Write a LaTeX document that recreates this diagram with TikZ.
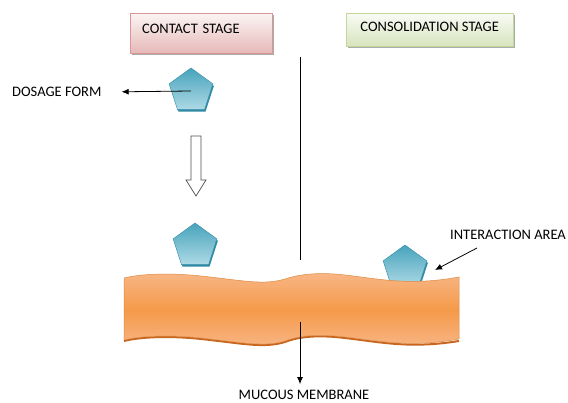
\documentclass[tikz,border=0pt]{standalone}
\usepackage{fontspec}
\setmainfont{Carlito}
\usepackage{tikz}
\usetikzlibrary{calc}
\usetikzlibrary{arrows.meta}
\usetikzlibrary{shapes.geometric}
\usetikzlibrary{shadows}
\usetikzlibrary{positioning}
\definecolor{tealb}{HTML}{4BACC6}
\definecolor{tealdark}{HTML}{2F8AA5}
\definecolor{pinkb}{HTML}{E6B9B8}
\definecolor{pinkedge}{HTML}{D99694}
\definecolor{greenb}{HTML}{D7E4BD}
\definecolor{greenedge}{HTML}{C3D69B}
\definecolor{orangeb}{HTML}{F59A4A}
\definecolor{orangel}{HTML}{F8B686}
\definecolor{orangedark}{HTML}{C8651E}
\tikzset{drug/.style={regular polygon,regular polygon sides=5,minimum size=46pt,inner sep=0pt,draw=tealdark,line width=0.4pt,top color=tealb!95!black,bottom color=tealb!45!white}}
\tikzset{drugshadow/.style={regular polygon,regular polygon sides=5,minimum size=46pt,inner sep=0pt,fill=tealdark}}
\tikzset{contactbox/.style={draw=pinkedge,top color=pinkb!15!white,bottom color=pinkb,minimum width=142pt,minimum height=40pt,inner xsep=12pt,text width=118pt,align=left,text height=10pt,text depth=10pt,drop shadow={shadow xshift=2pt,shadow yshift=-2pt,fill=black!55,opacity=0.6}}}
\tikzset{consolbox/.style={draw=greenedge,top color=greenb!15!white,bottom color=greenb,minimum width=167pt,minimum height=33pt,align=center,text height=10pt,text depth=6pt,drop shadow={shadow xshift=2pt,shadow yshift=-2pt,fill=black!55,opacity=0.6}}}
\tikzset{label/.style={inner sep=3pt}}
\tikzset{pointer/.style={-{Latex[length=7pt,width=6pt]},line width=0.8pt}}

\begin{document}
\begin{tikzpicture}[x=1pt,y=-1pt,font=\fontsize{14.5}{17}\selectfont]
\useasboundingbox (0,0) rectangle (568,403);

  % stage headers
  \node[contactbox,anchor=north west] (contact) at (130,13) {CONTACT STAGE};
  \node[consolbox,anchor=north west] (consol) at (346,13) {CONSOLIDATION STAGE};

  % divider
  \coordinate (divtop) at (300,57);
  \coordinate (divbot) at (300,260);
  \draw[line width=0.8pt] (divtop) -- (divbot);

  % dosage form
  \node[drugshadow] at (192,93) {};
  \node[drug] (form) at (191,91) {};
  \node[label,anchor=west] (dose) at (9,92) {DOSAGE FORM};
  \draw[pointer,shorten >=17pt] (form.center) -- (dose.east);

  % block arrow
  \draw[black!70,line width=0.7pt] (191,136) -- (201,136) -- (201,180) -- (206,180)
    -- (196,196) -- (186,180) -- (191,180) -- cycle;

  % forms near the membrane
  \node[drugshadow] at (196,248) {};
  \node[drug] (near) at (195,246) {};
  \node[drugshadow] at (406,270) {};
  \node[drug] (stuck) at (405,268) {};

  % mucous membrane
  \draw[orangedark,line width=2pt] (459,341) .. controls (410,349) and (380,342) .. (345,338)
    .. controls (320,335) and (300,336) .. (285,342)
    .. controls (265,348) and (245,344) .. (210,340)
    .. controls (170,335) and (140,337) .. (124,341);
  \draw[draw=orangeb!90!black,line width=0.5pt,top color=orangel,bottom color=orangel,middle color=orangeb]
    (124,278) .. controls (140,274) and (170,272) .. (210,277)
    .. controls (245,281) and (265,285) .. (285,279)
    .. controls (300,274) and (320,272) .. (345,275)
    .. controls (380,279) and (410,286) .. (459,277)
    -- (459,339)
    .. controls (410,348) and (380,341) .. (345,337)
    .. controls (320,334) and (300,335) .. (285,341)
    .. controls (265,347) and (245,343) .. (210,339)
    .. controls (170,334) and (140,336) .. (124,340) -- cycle;

  % labels
  \node[label,anchor=west] (area) at (447,235) {INTERACTION AREA};
  \coordinate (areafrom) at (477,248);
  \coordinate (areato) at (435,270);
  \draw[pointer] (areafrom) -- (areato);

  \node[label] (mucous) at (304,395) {MUCOUS MEMBRANE};
  \coordinate (mucfrom) at (300,322);
  \draw[pointer,shorten >=3pt] (mucfrom) -- (mucous.north -| mucfrom);
\end{tikzpicture}
\end{document}
